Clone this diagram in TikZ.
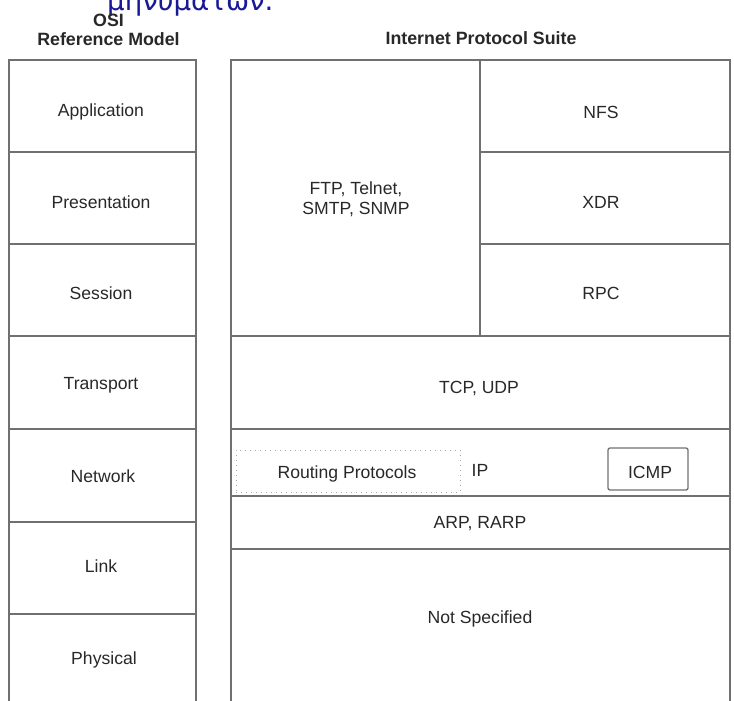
\documentclass[tikz,border=0pt]{standalone}
\usepackage{fontspec}
\setmainfont{Liberation Sans}
\newfontfamily\greekfont{DejaVu Sans}
\definecolor{frame}{RGB}{112,112,112}
\definecolor{txt}{RGB}{40,40,40}
\definecolor{greekblue}{RGB}{25,25,150}
\begin{document}
\begin{tikzpicture}[x=1pt,y=-1pt,
  frameline/.style={draw=frame,line width=1.6pt},
  sepline/.style={draw=frame,line width=1.4pt},
  lbl/.style={text=txt,font=\fontsize{17.6}{20.5}\selectfont,inner sep=0pt,align=center},
  ttl/.style={text=txt,font=\fontsize{17.8}{18}\selectfont\bfseries,inner sep=0pt,align=center},
  dotbox/.style={draw=black!35,line width=1pt,dash pattern=on 1pt off 4pt},
  icmpbox/.style={draw=frame,line width=1.3pt,rounded corners=2pt}]
\path[use as bounding box,clip] (0,0) rectangle (734,701);
% Greek fragment at top
\node[anchor=base west,inner sep=0pt,text=greekblue,font=\greekfont\fontsize{27.6}{30}\selectfont] (greek) at (107,10.5) {μηνυμάτων.};
% titles
\node[ttl] (osi) at (108.5,20.5) {OSI};
\node[ttl] (refmodel) at (108.5,39) {Reference Model};
\node[ttl] (ips) at (481,38) {Internet Protocol Suite};
% left column frame
\draw[frameline] (9,705) -- (9,60) -- (196,60) -- (196,705);
\foreach \yy in {152,244,336,429,522,614} \draw[sepline] (9,\yy) -- (196,\yy);
% right column frame
\draw[frameline] (231,705) -- (231,60) -- (730,60) -- (730,705);
\draw[sepline] (480,60) -- (480,336);
\draw[sepline] (480,152) -- (730,152);
\draw[sepline] (480,244) -- (730,244);
\foreach \yy in {336,429,496,549} \draw[sepline] (231,\yy) -- (730,\yy);
% inner boxes
\node[dotbox,minimum width=224pt,minimum height=42pt,inner sep=0pt] (routingbox) at (348,471) {};
\node[icmpbox,minimum width=80pt,minimum height=42pt,inner sep=0pt] (icmpbox) at (648,469) {};
% left labels
\node[lbl] (app) at (101,112) {Application};
\node[lbl] (pres) at (101,202) {Presentation};
\node[lbl] (sess) at (101,293) {Session};
\node[lbl] (trans) at (101,385) {Transport};
\node[lbl] (net) at (103,476) {Network};
\node[lbl] (link) at (101,566) {Link};
\node[lbl] (phys) at (104,660) {Physical};
% right labels
\node[lbl] (ftp) at (356,199) {FTP, Telnet,\\SMTP, SNMP};
\node[lbl] (nfs) at (601,112) {NFS};
\node[lbl] (xdr) at (601,202) {XDR};
\node[lbl] (rpc) at (601,293) {RPC};
\node[lbl] (tcp) at (479,388) {TCP, UDP};
\node[lbl] (routing) at (347,474) {Routing Protocols};
\node[lbl] (ip) at (480,470) {IP};
\node[lbl] (icmp) at (650,472) {ICMP};
\node[lbl] (arp) at (480,524) {ARP, RARP};
\node[lbl] (notspec) at (480,619) {Not Specified};
\end{tikzpicture}
\end{document}
